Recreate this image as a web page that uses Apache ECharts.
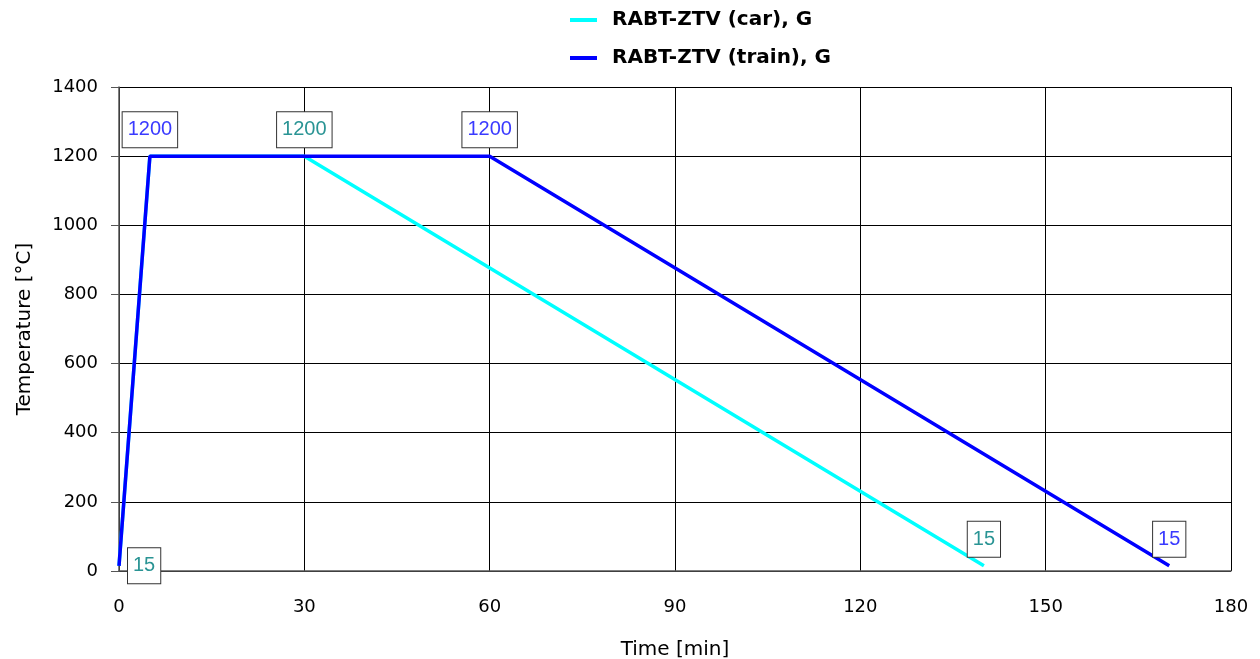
<!DOCTYPE html>
<html>
<head>
<meta charset="utf-8">
<script src="https://cdn.jsdelivr.net/npm/echarts@6/dist/echarts.min.js"></script>
<style>
  html, body { margin: 0; padding: 0; background: #fff; }
  #chart { width: 1260px; height: 659px; }
</style>
</head>
<body>
<div id="chart"></div>
<script>
const seriesNames = ['RABT-ZTV (car), G', 'RABT-ZTV (train), G'];

// time [min] and temperature [°C]
const carTime = [0, 5, 30, 140];
const carTemp = [15, 1200, 1200, 15];
const trainTime = [0, 5, 60, 170];
const trainTemp = [15, 1200, 1200, 15];

// which points carry a value box
const carLabelIdx = [0, 2, 3];
const trainLabelIdx = [1, 2, 3];

const xTicks = [0, 30, 60, 90, 120, 150, 180];
const yTicks = [0, 200, 400, 600, 800, 1000, 1200, 1400];

const axisFont = 'DejaVu Sans, sans-serif';

const boxStyle = {
  backgroundColor: '#fff',
  borderColor: '#333',
  borderWidth: 1,
  padding: [6, 5, 6, 5],
  fontFamily: 'Liberation Sans, Arial, sans-serif',
  fontSize: 20,
  lineHeight: 23
};

function buildData(times, temps, labelIdx, textColor) {
  return times.map((t, i) => {
    const item = { value: [t, temps[i]] };
    if (labelIdx.includes(i)) {
      const pos = (t === 0 && temps[i] < 100) ? 'right' : 'top';
      item.label = Object.assign({
        show: true,
        position: pos,
        distance: 9,
        color: textColor,
        formatter: String(temps[i])
      }, boxStyle);
    }
    return item;
  });
}

const chart = echarts.init(document.getElementById('chart'));

chart.setOption({
  animation: false,
  textStyle: { fontFamily: axisFont },
  legend: {
    orient: 'vertical',
    left: 565,
    top: 5,
    itemWidth: 27,
    itemHeight: 4,
    itemGap: 18,
    data: seriesNames.map(n => ({ name: n, icon: 'rect' })),
    textStyle: {
      fontFamily: axisFont,
      fontSize: 20,
      fontWeight: 'bold',
      color: '#000',
      padding: [0, 0, 0, 10]
    }
  },
  grid: { left: 119, right: 29, top: 87, bottom: 88, outerBoundsMode: 'none' },
  xAxis: {
    type: 'value',
    min: 0,
    max: 180,
    interval: 30,
    name: 'Time [min]',
    nameLocation: 'middle',
    nameGap: 69,
    nameTextStyle: { fontFamily: axisFont, fontSize: 20, color: '#000' },
    axisLine: { show: true, lineStyle: { color: '#555', width: 1.5 } },
    axisTick: { show: false },
    axisLabel: {
      fontFamily: axisFont, fontSize: 18, color: '#000', margin: 27,
      formatter: v => (xTicks.includes(v) ? String(v) : '')
    },
    splitLine: { show: true, lineStyle: { color: '#000', width: 1 } }
  },
  yAxis: {
    type: 'value',
    min: 0,
    max: 1400,
    interval: 200,
    name: 'Temperature [°C]',
    nameLocation: 'middle',
    nameGap: 84,
    nameTextStyle: { fontFamily: axisFont, fontSize: 20, color: '#000' },
    axisLine: { show: true, lineStyle: { color: '#555', width: 1.5 } },
    axisTick: { show: true, length: 8, lineStyle: { color: '#555' } },
    axisLabel: {
      fontFamily: axisFont, fontSize: 18, color: '#000', margin: 21,
      formatter: v => (yTicks.includes(v) ? String(v) : '')
    },
    splitLine: { show: true, lineStyle: { color: '#000', width: 1 } }
  },
  series: [
    {
      name: seriesNames[0],
      type: 'line',
      color: '#00ffff',
      symbol: 'circle',
      symbolSize: 0,
      showSymbol: true,
      lineStyle: { color: '#00ffff', width: 3.5 },
      data: buildData(carTime, carTemp, carLabelIdx, '#2a9494'),
      z: 2
    },
    {
      name: seriesNames[1],
      type: 'line',
      color: '#0000ff',
      symbol: 'circle',
      symbolSize: 0,
      showSymbol: true,
      lineStyle: { color: '#0000ff', width: 3.5 },
      data: buildData(trainTime, trainTemp, trainLabelIdx, '#3a3aff'),
      z: 3
    }
  ]
});
</script>
</body>
</html>
